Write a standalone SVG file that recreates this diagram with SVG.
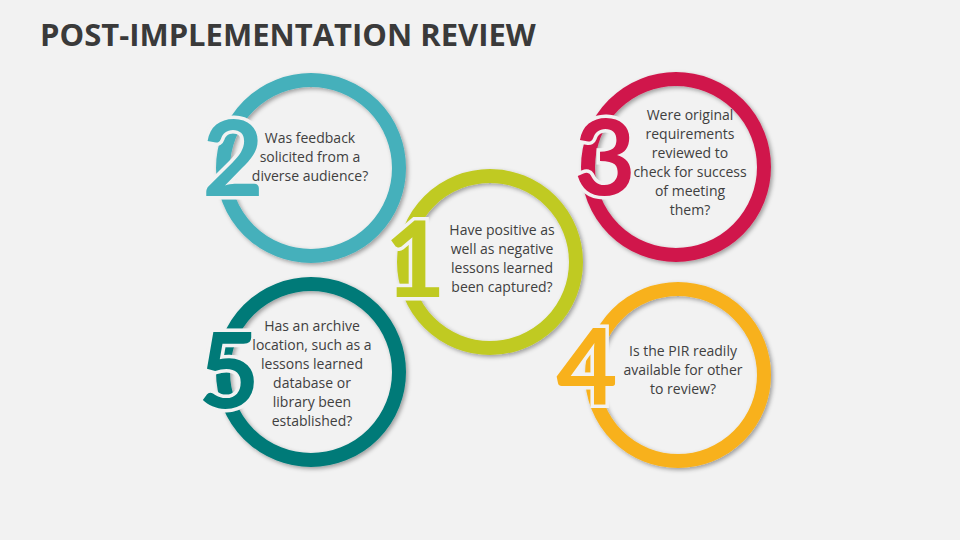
<svg xmlns="http://www.w3.org/2000/svg" width="960" height="540" viewBox="0 0 960 540">
<defs>
<filter id="sh" x="-20%" y="-20%" width="140%" height="140%"><feDropShadow dx="2" dy="2" stdDeviation="2" flood-color="#000" flood-opacity="0.35"/></filter>
</defs>
<style>
.ring{fill:none;stroke-width:14;filter:url(#sh)}
.dig,.gap{font-family:Lato,"Liberation Sans",sans-serif;font-weight:bold;font-size:106px;text-anchor:middle}
.gap{fill:#f2f2f2;stroke:#f2f2f2;stroke-width:7}
.t{font-family:"Open Sans","Liberation Sans",sans-serif;font-size:14px;fill:#404040;text-anchor:middle}
</style>
<rect width="960" height="540" fill="#f2f2f2"/>
<text x="40" y="46" font-family="'Open Sans','Liberation Sans',sans-serif" font-weight="bold" font-size="31" fill="#3a3a3a">POST-IMPLEMENTATION REVIEW</text>
<g id="n2"><circle class="ring" cx="311" cy="168" r="88" stroke="#45B0BB"/><text class="gap" x="233" y="196">2</text><text class="dig" x="233" y="196" fill="#45B0BB">2</text>
<text class="t"><tspan x="310" y="143">Was feedback</tspan><tspan x="310" y="162">solicited from a</tspan><tspan x="310" y="181">diverse audience?</tspan></text></g>
<g id="n3"><circle class="ring" cx="676" cy="167" r="88" stroke="#D0184C"/><text class="gap" x="605" y="195">3</text><text class="dig" x="605" y="195" fill="#D0184C">3</text>
<text class="t"><tspan x="690" y="120">Were original</tspan><tspan x="690" y="139">requirements</tspan><tspan x="690" y="158">reviewed to</tspan><tspan x="690" y="177">check for success</tspan><tspan x="690" y="196">of meeting</tspan><tspan x="690" y="215">them?</tspan></text></g>
<g id="n1"><circle class="ring" cx="490" cy="262" r="86" stroke="#C0CA22"/><text class="gap" x="415" y="297">1</text><text class="dig" x="415" y="297" fill="#C0CA22">1</text>
<text class="t"><tspan x="502" y="235">Have positive as</tspan><tspan x="502" y="254">well as negative</tspan><tspan x="502" y="273">lessons learned</tspan><tspan x="502" y="292">been captured?</tspan></text></g>
<g id="n4"><circle class="ring" cx="678" cy="375" r="86" stroke="#F8B11C"/><text class="gap" x="587" y="405">4</text><text class="dig" x="587" y="405" fill="#F8B11C">4</text>
<text class="t"><tspan x="683" y="356">Is the PIR readily</tspan><tspan x="683" y="375">available for other</tspan><tspan x="683" y="394">to review?</tspan></text></g>
<g id="n5"><circle class="ring" cx="311" cy="372" r="88" stroke="#007A78"/><text class="gap" x="229" y="408">5</text><text class="dig" x="229" y="408" fill="#007A78">5</text>
<text class="t"><tspan x="312" y="331">Has an archive</tspan><tspan x="312" y="350">location, such as a</tspan><tspan x="312" y="369">lessons learned</tspan><tspan x="312" y="388">database or</tspan><tspan x="312" y="407">library been</tspan><tspan x="312" y="426">established?</tspan></text></g>
<g id="connectors"/>
</svg>
